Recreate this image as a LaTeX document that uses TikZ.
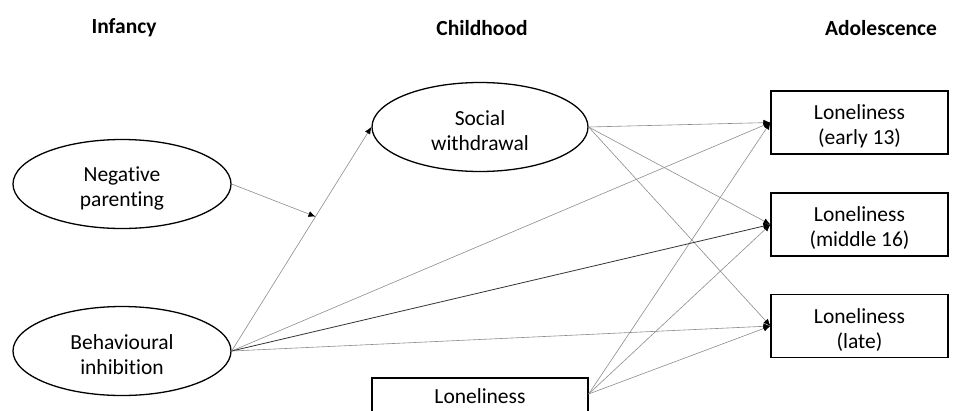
\documentclass[tikz,border=0pt]{standalone}
\usepackage{fontspec}
\setmainfont{Carlito}[Ligatures=NoCommon]
\usetikzlibrary{arrows.meta,shapes.geometric}
\tikzset{lab/.style={align=center,inner sep=0pt,yshift=-4pt},
  oval/.style={ellipse,draw,line width=1.3pt,minimum width=218pt,minimum height=89pt,inner sep=0pt},
  lonebox/.style={rectangle,draw,line width=1.2pt,minimum width=177pt,minimum height=63pt,inner sep=0pt},
  link/.style={-{Latex[length=7pt,width=6pt,color=black]},draw=black!45,line width=.6pt},
  heading/.style={font=\fontsize{21.5}{25}\selectfont\bfseries}}

\begin{document}
\begin{tikzpicture}[x=1pt,y=1pt,font=\fontsize{21.5}{25}\selectfont]
  \useasboundingbox (0,0) rectangle (976,-410);
  \clip (0,0) rectangle (976,-410);
  \node[heading] (tinf) at (124,-28) {Infancy};
  \node[heading] (tchi) at (482,-28) {Childhood};
  \node[heading] (tado) at (881,-28) {Adolescence};
  \node[oval,label={[lab]center:{Negative\\parenting}}] (negpar) at (122,-184) {};
  \node[oval,label={[lab]center:{Behavioural\\inhibition}}] (behinh) at (122,-351) {};
  \node[oval,minimum width=216pt,label={[lab]center:{Social\\withdrawal}}] (socwd) at (480,-127) {};
  \node[lonebox,label={[lab]center:{Loneliness\\(early 13)}}] (le) at (859.5,-122.5) {};
  \node[lonebox,label={[lab]center:{Loneliness\\(middle 16)}}] (lm) at (859.5,-224.5) {};
  \node[lonebox,label={[lab]center:{Loneliness\\(late)}}] (ll) at (859.5,-326) {};
  \node[lonebox,minimum width=216pt,label={[lab,yshift=17.5pt]center:Loneliness}] (lc) at (480,-409.5) {};
  \coordinate (lcout) at ([yshift=15.5pt]lc.east);
  \foreach \t in {le,lm,ll}{
    \draw[link] (socwd.east) -- (\t.west);
    \draw[link] (lcout) -- (\t.west);
  }
  \foreach \t in {le,ll}{\draw[link] (behinh.east) -- (\t.west);}
  \draw[link,draw=black!80,line width=.8pt] (behinh.east) -- (lm.west);
  \draw[link] (behinh.east) -- coordinate[pos=.6] (mod) (socwd.west);
  \draw[link] (negpar.east) -- (mod);
\end{tikzpicture}
\end{document}
